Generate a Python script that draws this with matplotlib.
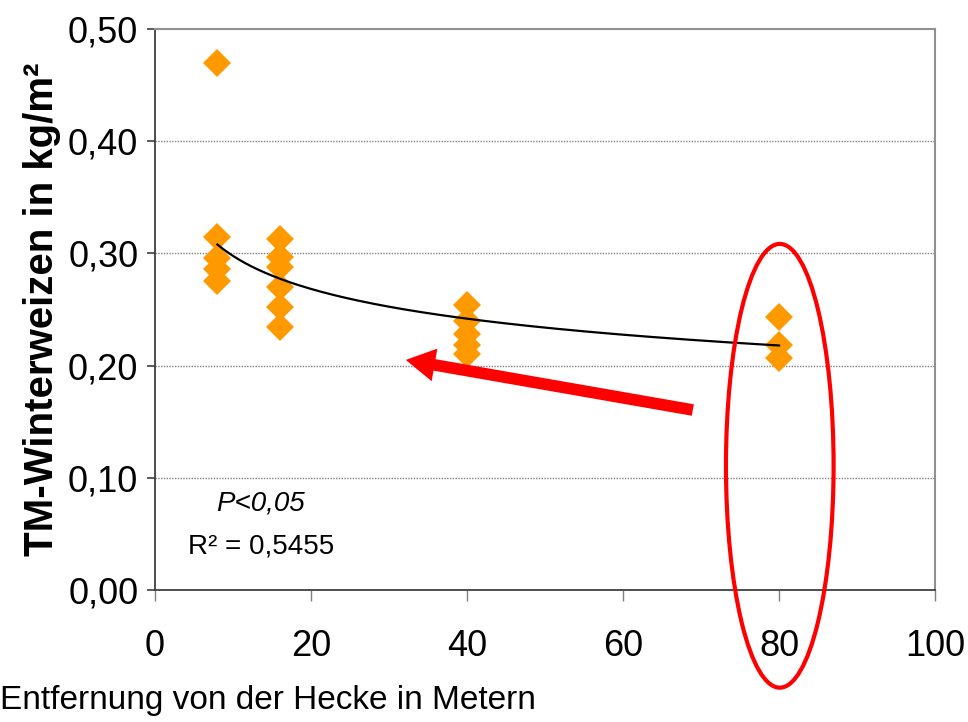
import numpy as np
import matplotlib
matplotlib.use("Agg")
import matplotlib.pyplot as plt
from matplotlib.patches import Ellipse, FancyArrowPatch

plt.rcParams['font.family'] = ['Liberation Sans', 'DejaVu Sans']

# Dry matter of winter wheat by distance from the hedge
dist_8 = [8] * 5
vals_8 = [0.470, 0.315, 0.296, 0.286, 0.275]
dist_16 = [16] * 6
vals_16 = [0.313, 0.297, 0.288, 0.270, 0.252, 0.234]
dist_40 = [40] * 5
vals_40 = [0.254, 0.240, 0.228, 0.218, 0.210]
dist_80 = [80] * 3
vals_80 = [0.243, 0.218, 0.207]

# power trend line y = a * x^b
trend_a = 0.4207
trend_b = -0.1501
trend_range = (8, 80)

x_ticks = [0, 20, 40, 60, 80, 100]
y_ticks = [0.0, 0.1, 0.2, 0.3, 0.4, 0.5]

fig = plt.figure(figsize=(9.68, 7.22), dpi=100)
ax = fig.add_axes([155 / 968, 1 - 590 / 722, 780 / 968, 561 / 722])

ax.set_xlim(0, 100)
ax.set_ylim(0, 0.5)

orange = '#FF9900'
xs = dist_8 + dist_16 + dist_40 + dist_80
ys = vals_8 + vals_16 + vals_40 + vals_80
ax.plot(xs, ys, linestyle='none', marker='D', markersize=14.3,
        color=orange, markeredgewidth=0, zorder=3)

tx = np.linspace(trend_range[0], trend_range[1], 200)
ax.plot(tx, trend_a * tx ** trend_b, color='black', lw=1.6, zorder=4)

# grid
for yv in y_ticks[1:-1]:
    ax.axhline(yv, color='#808080', lw=1.0, linestyle=(0, (1, 1)), zorder=1)

ax.spines['top'].set_color('#909090')
ax.spines['right'].set_color('#909090')
ax.spines['top'].set_linewidth(1.5)
ax.spines['right'].set_linewidth(1.5)
ax.spines['left'].set_color('#404040')
ax.spines['bottom'].set_color('#404040')
ax.spines['left'].set_linewidth(1.3)
ax.spines['bottom'].set_linewidth(1.3)

ax.set_xticks(x_ticks)
ax.set_yticks(y_ticks)
ax.set_xticklabels([str(v) for v in x_ticks], fontsize=26)
ax.set_yticklabels([f"{v:.2f}".replace('.', ',') for v in y_ticks], fontsize=26)
ax.tick_params(axis='y', direction='out', length=6, width=1.2, color='#404040', pad=6)
ax.tick_params(axis='x', direction='out', length=8, width=1.0, color='#808080', pad=20)

ax.set_ylabel('TM-Winterweizen in kg/m²', fontsize=29, fontweight='bold', labelpad=5)
fig.text(0.0, 1 - 700 / 722, 'Entfernung von der Hecke in Metern', fontsize=24,
         ha='left', va='center')

ax.text(13.5, 0.0768, 'P<0,05', fontsize=20, style='italic', ha='center', va='center')
ax.text(13.6, 0.0384, 'R² = 0,5455', fontsize=20, ha='center', va='center')

# highlight around the 80 m group
ell = Ellipse((80.1, 0.1107), 13.8, 0.3955, fill=False, edgecolor='#FF0000',
              lw=3, clip_on=False, zorder=5)
ax.add_patch(ell)

arrow = FancyArrowPatch((69.3, 0.160), (31.8, 0.2055),
                        arrowstyle='simple,head_length=1.5,head_width=1.7,tail_width=0.6',
                        mutation_scale=14, color='#FF0000', lw=0, zorder=6)
ax.add_patch(arrow)

fig.savefig('out.png', dpi=100)
